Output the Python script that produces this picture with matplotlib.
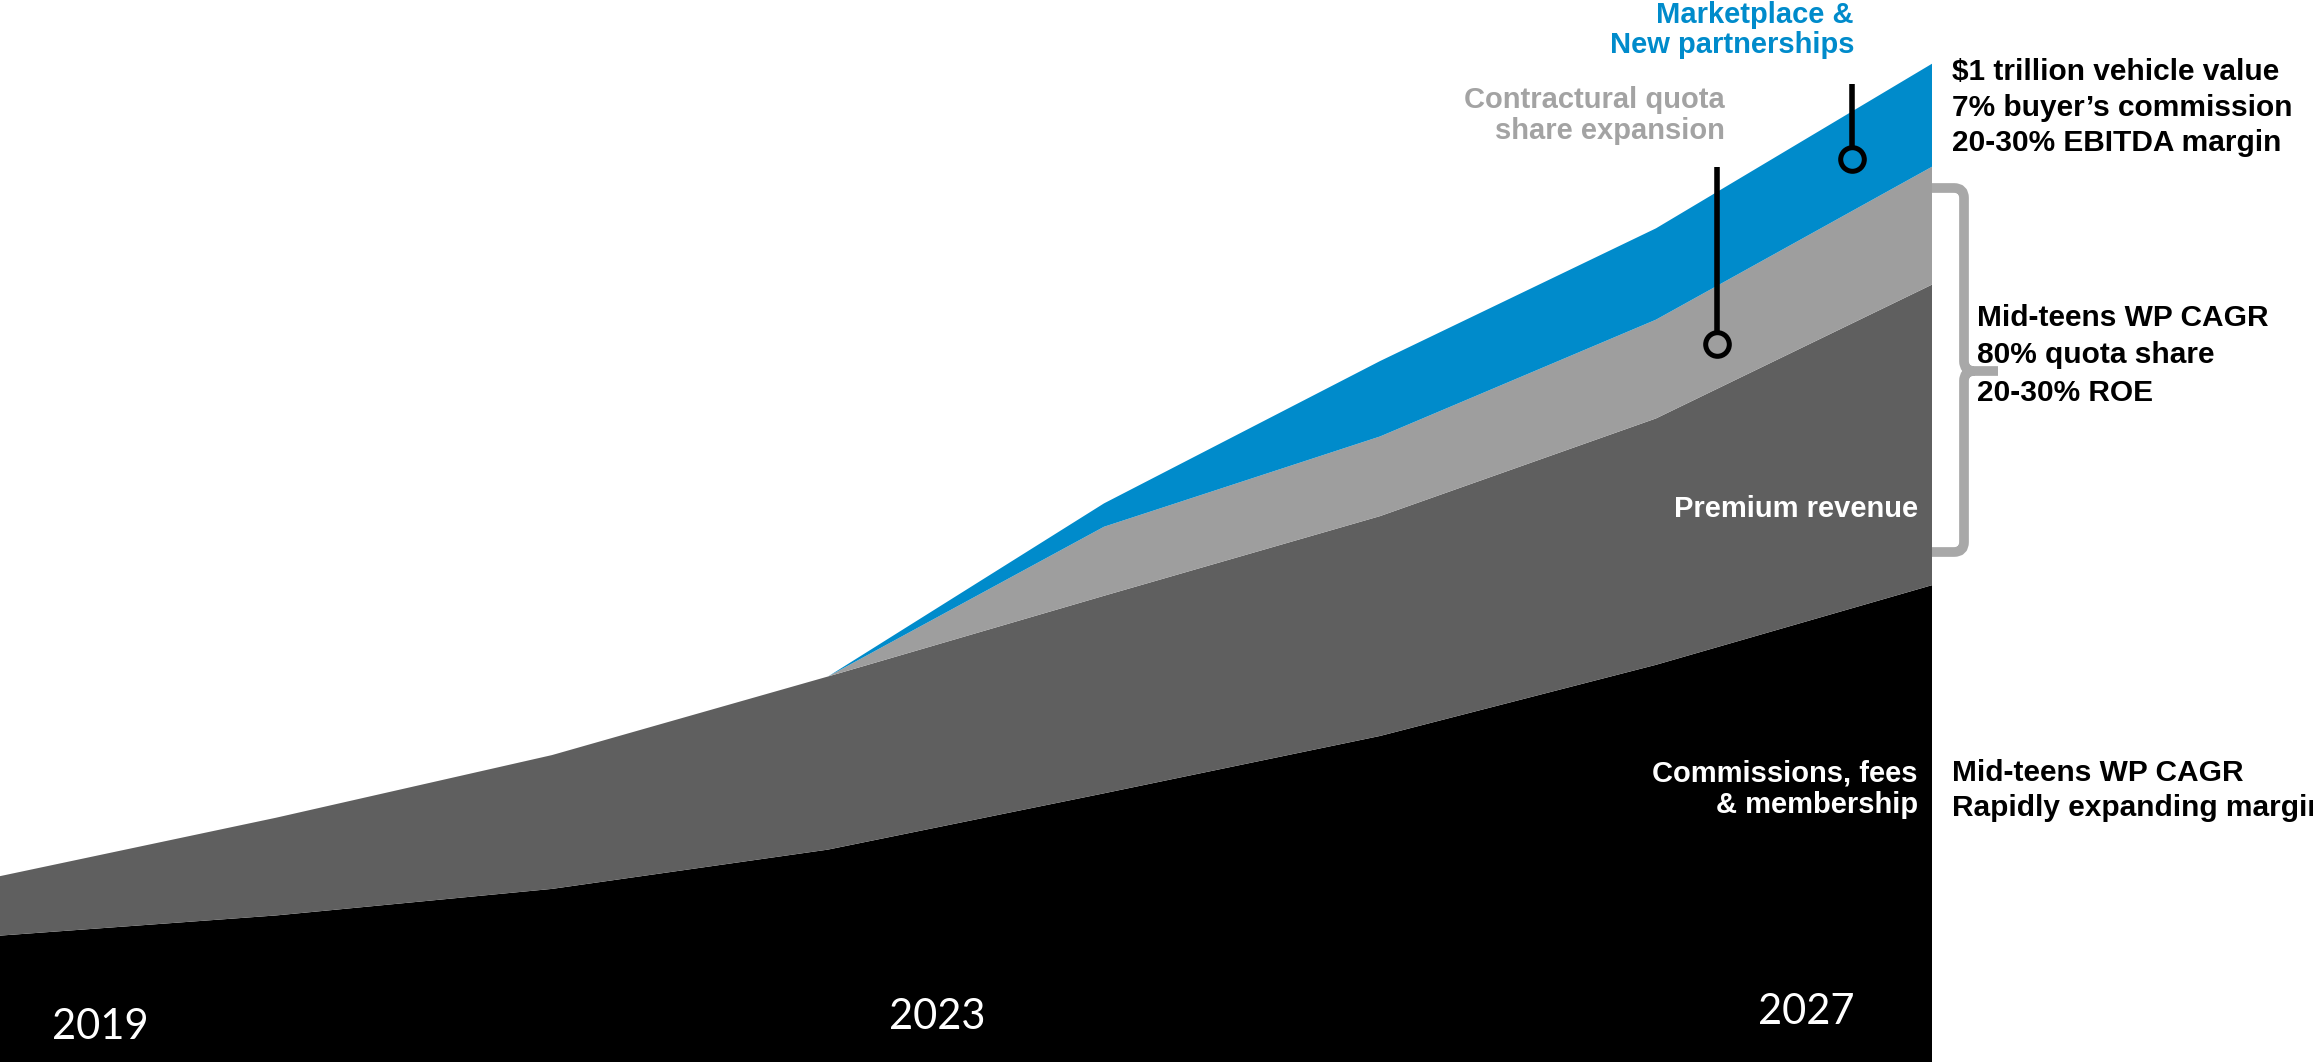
import numpy as np
import matplotlib
matplotlib.use("Agg")
import matplotlib.pyplot as plt
from matplotlib.path import Path
from matplotlib.patches import PathPatch

W, H = 2313, 1062

# revenue build-up, index units (full height = 100)
periods = np.arange(8)
commissions = [11.9, 13.8, 16.3, 20.0, 25.3, 30.7, 37.4, 44.9]
premium = [5.6, 9.2, 12.6, 16.3, 18.6, 20.7, 23.2, 28.3]
quota_expansion = [0, 0, 0, 0, 6.5, 7.5, 9.3, 11.1]
marketplace = [0, 0, 0, 0, 2.2, 7.1, 8.6, 9.7]
year_labels = ["2019", "2023", "2027"]

colors = ["#000000", "#5f5f5f", "#9e9e9e", "#008bcb"]
BLUE = "#008bcb"
GREY_TXT = "#a3a3a3"
BRACE = "#a8a8a8"

plt.rcParams["font.family"] = ["Liberation Sans", "DejaVu Sans"]

fig = plt.figure(figsize=(W / 100, H / 100), dpi=100)
fig.patch.set_facecolor("white")

ax = fig.add_axes([0, 0, 1932 / W, 1])
ax.stackplot(periods, commissions, premium, quota_expansion, marketplace,
             colors=colors, linewidth=0)
ax.set_xlim(0, 7)
ax.set_ylim(0, 100)
ax.axis("off")

# leader lines with open circles
lead_q_x, lead_q_top, lead_q_dot = 6.22, 84.3, 67.6
lead_m_x, lead_m_top, lead_m_dot = 6.71, 92.1, 85.0
for lx, ltop, ldot in [(lead_q_x, lead_q_top, lead_q_dot),
                       (lead_m_x, lead_m_top, lead_m_dot)]:
    ax.plot([lx, lx], [ltop, ldot + 1.2], color="black", lw=4,
            solid_capstyle="butt", clip_on=False, zorder=5)
    ax.plot([lx], [ldot], marker="o", ms=17, mfc="none", mec="black",
            mew=3.6, clip_on=False, zorder=6)

# overlay in pixel coordinates for labels and brace
ov = fig.add_axes([0, 0, 1, 1], zorder=10)
ov.set_xlim(0, W)
ov.set_ylim(H, 0)
ov.axis("off")
ov.patch.set_alpha(0)

lab = dict(fontsize=21, fontweight="bold", ha="right", va="center")
ov.text(1854, 15, "Marketplace &", color=BLUE, **lab)
ov.text(1854, 45, "New partnerships", color=BLUE, **lab)
ov.text(1725, 100, "Contractural quota", color=GREY_TXT, **lab)
ov.text(1725, 131, "share expansion", color=GREY_TXT, **lab)
ov.text(1918, 509, "Premium revenue", color="white", **lab)
ov.text(1918, 773, "Commissions, fees", color="white", **lab)
ov.text(1918, 805, "& membership", color="white", **lab)

rt = dict(fontsize=21.5, fontweight="bold", ha="left", va="center",
          color="black")
for y, s in [(72, "$1 trillion vehicle value"),
             (108, "7% buyer\u2019s commission"),
             (143, "20-30% EBITDA margin")]:
    ov.text(1952, y, s, **rt)
for y, s in [(318, "Mid-teens WP CAGR"),
             (355, "80% quota share"),
             (393, "20-30% ROE")]:
    ov.text(1977, y, s, **rt)
for y, s in [(773, "Mid-teens WP CAGR"),
             (808, "Rapidly expanding margin")]:
    ov.text(1952, y, s, **rt)

yr = dict(fontsize=30, color="white", ha="center", va="center",
          family=["Lato", "DejaVu Sans"])
for (x, y), s in zip([(100, 1027), (937, 1017), (1806, 1012)], year_labels):
    ov.text(x, y, s, **yr)

# curly brace next to the premium layers
bx0, bx1, bnub = 1932, 1964, 1998
by0, bmid, by1 = 188, 371, 552
r = 10
verts = [(bx0, by0), (bx1 - r, by0), (bx1, by0), (bx1, by0 + r),
         (bx1, bmid - r), (bx1, bmid), (bx1 + r, bmid), (bnub, bmid),
         (bx1 + r, bmid), (bx1, bmid), (bx1, bmid + r),
         (bx1, by1 - r), (bx1, by1), (bx1 - r, by1), (bx0, by1)]
codes = [Path.MOVETO, Path.LINETO, Path.CURVE3, Path.CURVE3,
         Path.LINETO, Path.CURVE3, Path.CURVE3, Path.LINETO,
         Path.MOVETO, Path.CURVE3, Path.CURVE3,
         Path.LINETO, Path.CURVE3, Path.CURVE3, Path.LINETO]
ov.add_patch(PathPatch(Path(verts, codes), fill=False, edgecolor=BRACE,
                       lw=7, capstyle="butt", joinstyle="round"))

fig.savefig("out.png", dpi=100, facecolor="white")
